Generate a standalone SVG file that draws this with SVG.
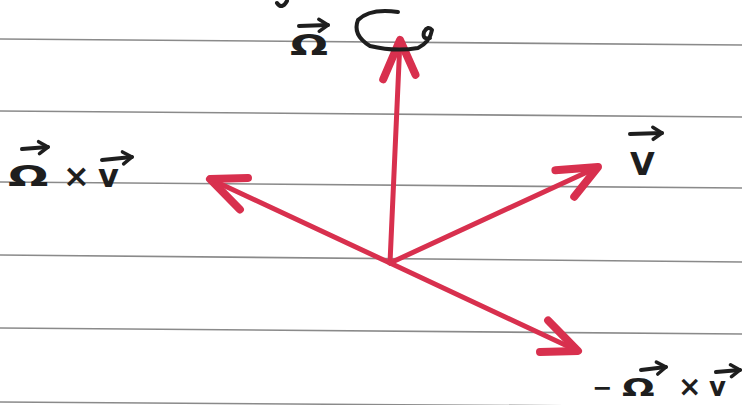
<svg xmlns="http://www.w3.org/2000/svg" width="742" height="405" viewBox="0 0 742 405">
<style>
.rule{stroke:#8a8a8a;stroke-width:1.6;fill:none}
.vec{stroke:#d8304e;stroke-width:5;stroke-linecap:round;fill:none}
.ink{stroke:#1e1e1e;stroke-width:4;stroke-linecap:round;stroke-linejoin:round;fill:none}
.lbl{font-family:"DejaVu Sans","Liberation Sans",sans-serif;font-weight:bold;fill:#1e1e1e}
</style>
<defs>
<marker id="head" markerUnits="userSpaceOnUse" markerWidth="60" markerHeight="60" viewBox="-50 -30 60 60" refX="0" refY="0" orient="auto">
<path d="M-40,-15 L0,0 L-34,17" stroke="#d8304e" stroke-width="8" stroke-linecap="round" stroke-linejoin="round" fill="none"/>
</marker>
<marker id="sarrow" markerUnits="userSpaceOnUse" markerWidth="20" markerHeight="20" viewBox="-12 -10 20 20" refX="0" refY="0" orient="auto">
<path d="M-9,-6 L0,0 L-9,6" stroke="#1e1e1e" stroke-width="3.5" stroke-linecap="round" stroke-linejoin="round" fill="none"/>
</marker>
</defs>
<rect width="742" height="405" fill="#ffffff"/>
<g id="paper-lines">
<line class="rule" x1="0" y1="39" x2="742" y2="45"/>
<line class="rule" x1="0" y1="111" x2="742" y2="117"/>
<line class="rule" x1="0" y1="182" x2="742" y2="188"/>
<line class="rule" x1="0" y1="255" x2="742" y2="262"/>
<line class="rule" x1="0" y1="328" x2="742" y2="334"/>
<line class="rule" x1="0" y1="402" x2="742" y2="407"/>
</g>
<g id="connectors">
<line class="vec" x1="390" y1="263" x2="400" y2="40" marker-end="url(#head)"/>
<line class="vec" x1="390" y1="263" x2="210" y2="179" marker-end="url(#head)"/>
<line class="vec" x1="390" y1="263" x2="598" y2="167" marker-end="url(#head)"/>
<line class="vec" x1="390" y1="263" x2="578" y2="351" marker-end="url(#head)"/>
</g>
<g id="omega">
<path class="ink" d="M277,3 Q282,10 287,1"/>
<line class="ink" x1="299" y1="26" x2="328" y2="25" stroke-width="3.5" marker-end="url(#sarrow)"/>
<text class="lbl" transform="translate(290,55) scale(1.6,1)" font-size="28">Ω</text>
<path class="ink" d="M398,12 Q370,8 358,20 Q352,35 370,46 Q395,52 418,48 Q430,42 432,30 Q428,25 424,32 Q422,40 430,38"/>
</g>
<g id="omega-cross-v">
<line class="ink" x1="22" y1="149" x2="48" y2="147" stroke-width="3.5" marker-end="url(#sarrow)"/>
<text class="lbl" transform="translate(8,186) scale(1.7,1)" font-size="28">Ω</text>
<text class="lbl" x="63" y="187" font-size="32">×</text>
<text class="lbl" x="98" y="187" font-size="32">v</text>
<line class="ink" x1="102" y1="160" x2="132" y2="157" stroke-width="3.5" marker-end="url(#sarrow)"/>
</g>
<g id="v">
<line class="ink" x1="630" y1="134" x2="662" y2="133" stroke-width="3.5" marker-end="url(#sarrow)"/>
<text class="lbl" x="630" y="175" font-size="32">V</text>
</g>
<g id="minus-omega-cross-v">
<text class="lbl" x="592" y="396" font-size="24">−</text>
<line class="ink" x1="641" y1="370" x2="666" y2="367" stroke-width="3.5" marker-end="url(#sarrow)"/>
<text class="lbl" transform="translate(622,396) scale(1.6,1)" font-size="24">Ω</text>
<text class="lbl" x="678" y="396" font-size="28">×</text>
<text class="lbl" x="709" y="396" font-size="26">v</text>
<line class="ink" x1="716" y1="372" x2="740" y2="370" stroke-width="3.5" marker-end="url(#sarrow)"/>
</g>
</svg>
